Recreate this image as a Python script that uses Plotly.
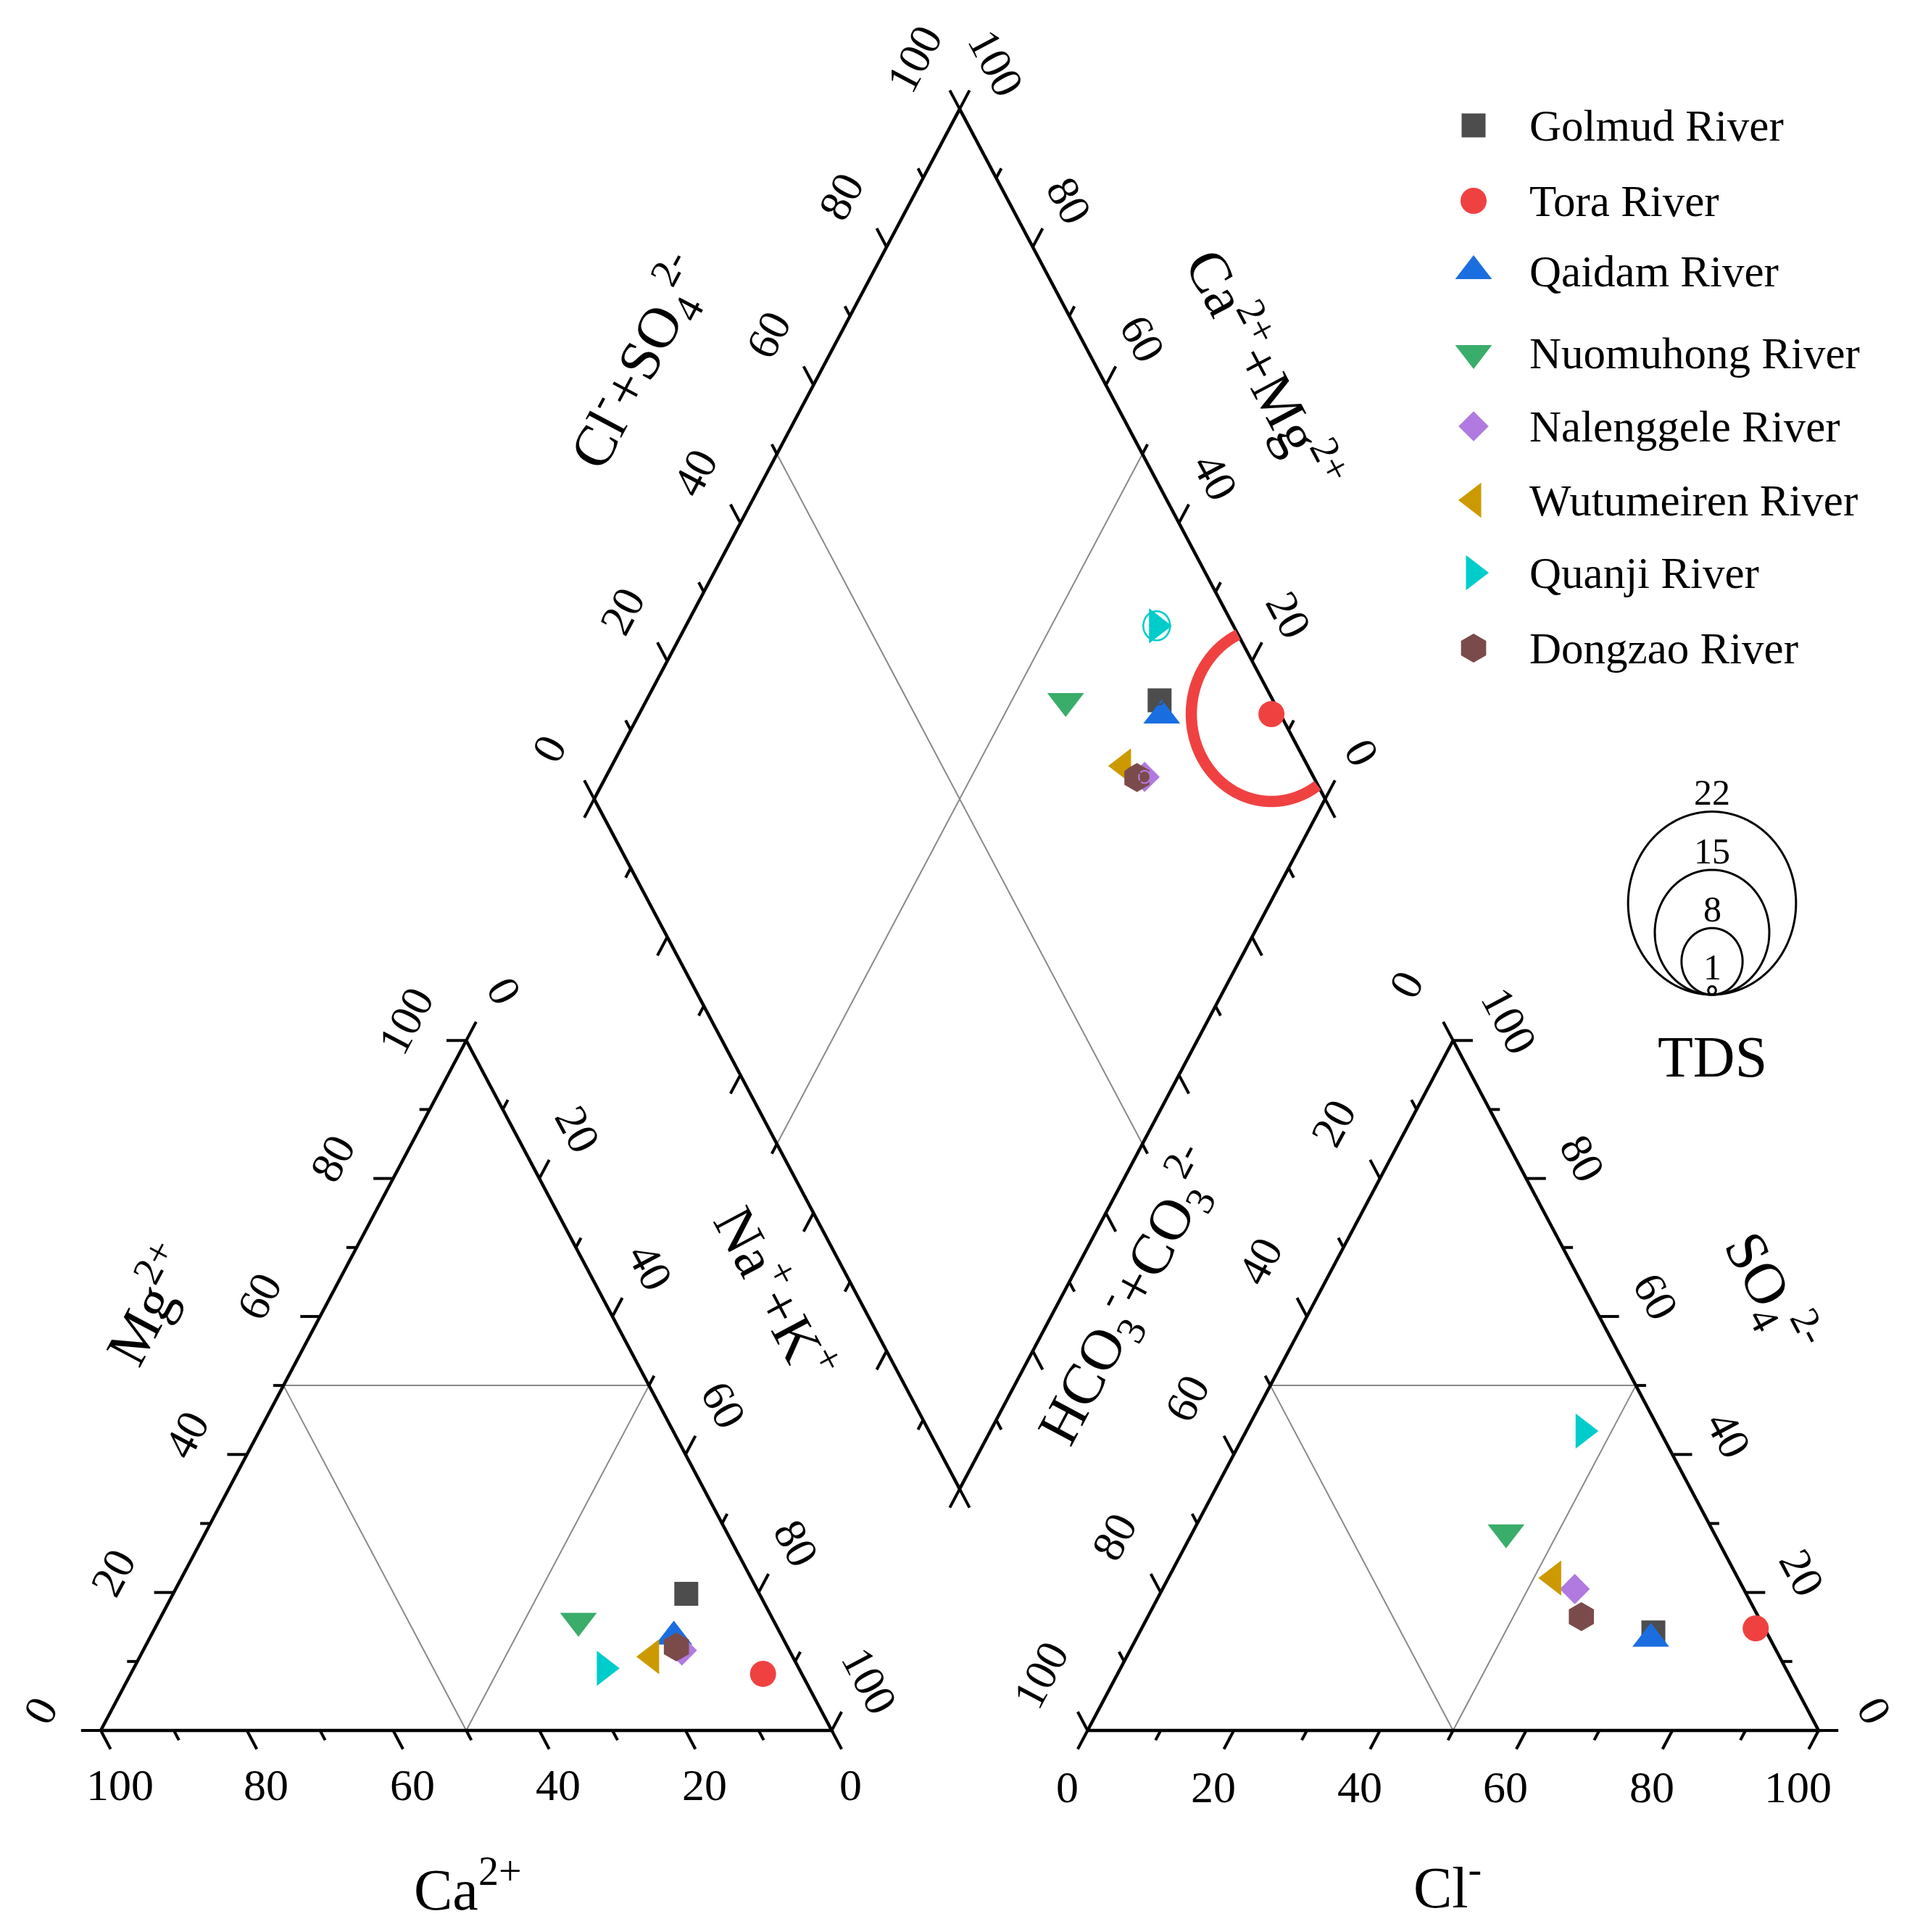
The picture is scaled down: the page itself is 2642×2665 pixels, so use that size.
import numpy as np
import plotly.graph_objects as go

# ---------------- data (percent meq/L) ----------------
rivers = ["Golmud River", "Tora River", "Qaidam River", "Nuomuhong River",
          "Nalenggele River", "Wutumeiren River", "Quanji River", "Dongzao River"]
ca = [10.0, 5.3, 14.8, 26.7, 14.7, 19.3, 26.6, 15.2]
mg = [19.8, 8.2, 13.6, 15.9, 11.6, 10.7, 9.0, 12.1]
na_k = [70.2, 86.5, 71.6, 57.4, 73.7, 70.0, 64.4, 72.7]
cl = [70.3, 84.0, 70.4, 42.9, 56.4, 52.7, 46.1, 59.3]
so4 = [14.2, 14.8, 13.3, 28.7, 20.5, 22.1, 43.4, 16.5]
hco3 = [15.5, 1.2, 16.3, 28.4, 23.1, 25.2, 10.5, 24.2]
tds = [1.0, 21.0, 1.2, 0.8, 1.5, 1.0, 3.5, 1.3]

tick_values = list(range(0, 101, 10))
label_values = [0, 20, 40, 60, 80, 100]
tds_legend_values = [22, 15, 8, 1]

# ---------------- styles ----------------
colors = ["#4d4d4d", "#f04141", "#1a6ee0", "#3aad6b", "#b07ae0", "#cc9a00", "#00cccc", "#7b4b4b"]
symbols = ["square", "circle", "triangle-up", "triangle-down", "diamond",
           "triangle-left", "triangle-right", "hexagon"]
msizes = [33, 36, 44, 44, 32, 42, 42, 40]

FONT = "Liberation Serif"
PAGE_MARGIN = 8                       # default body margin of the html page
W, H = 2642 - 2 * PAGE_MARGIN, 2665 - 2 * PAGE_MARGIN
PXU, PYU = 10.085, 10.990             # px per data unit (triangle side = 100)
ORIG_X, ORIG_Y = 139 - PAGE_MARGIN, 2387 - PAGE_MARGIN   # page px of the data origin
X0 = -ORIG_X / PXU
X1 = X0 + W / PXU
Y1 = ORIG_Y / PYU
Y0 = Y1 - H / PYU

S3 = np.sqrt(3) / 2
GAP = 35.0
OX = 100 + GAP
TDS_R = 0.522


def px2x(px):
    return (px - PAGE_MARGIN - ORIG_X) / PXU


def py2y(py):
    return (ORIG_Y - (py - PAGE_MARGIN)) / PYU


def cation_xy(c, m, n):
    t = c + m + n
    m, n = 100 * m / t, 100 * n / t
    return n + m / 2, m * S3


def anion_xy(c, s, h):
    t = c + s + h
    c, s = 100 * c / t, 100 * s / t
    return OX + c + s / 2, s * S3


def diamond_xy(n_pct, a_pct):
    return (OX + a_pct + n_pct) / 2, (OX + a_pct - n_pct) * S3


def inside_diamond(x, y):
    s = 2 * x - OX
    t = y / S3 - OX
    a = (s + t) / 2
    n = (s - t) / 2
    return (a >= -1e-9) & (a <= 100 + 1e-9) & (n >= -1e-9) & (n <= 100 + 1e-9)


fig = go.Figure()


def add_lines(segs, color, width):
    xs, ys = [], []
    for seg in segs:
        for p in seg:
            xs.append(p[0])
            ys.append(p[1])
        xs.append(None)
        ys.append(None)
    fig.add_trace(go.Scatter(x=xs, y=ys, mode="lines", line=dict(color=color, width=width),
                             hoverinfo="skip", showlegend=False))


# ---------------- inner (gray) lines ----------------
L_ = diamond_xy(0, 0)
B_ = diamond_xy(100, 0)
R_ = diamond_xy(100, 100)
T_ = diamond_xy(0, 100)
grid = [
    [cation_xy(50, 0, 50), cation_xy(50, 50, 0), cation_xy(0, 50, 50), cation_xy(50, 0, 50)],
    [anion_xy(50, 0, 50), anion_xy(0, 50, 50), anion_xy(50, 50, 0), anion_xy(50, 0, 50)],
    [diamond_xy(0, 50), diamond_xy(100, 50)],
    [diamond_xy(50, 100), diamond_xy(50, 0)],
]
add_lines(grid, "#8a8a8a", 2)

# ---------------- frames ----------------
frames = [
    [cation_xy(100, 0, 0), cation_xy(0, 0, 100), cation_xy(0, 100, 0), cation_xy(100, 0, 0)],
    [anion_xy(0, 0, 100), anion_xy(100, 0, 0), anion_xy(0, 100, 0), anion_xy(0, 0, 100)],
    [L_, B_, R_, T_, L_],
]
add_lines(frames, "black", 4.5)

# ---------------- axes: ticks + labels ----------------
axes = [
    # point on edge, outward direction, label offset, angle, labelled
    (lambda v: cation_xy(v, 0, 100 - v), (0.5, -S3), (2.6, -6.8), 0, True),
    (lambda v: cation_xy(100 - v, v, 0), (-1.0, 0.0), (-8.3, 2.5), -62, True),
    (lambda v: cation_xy(0, 100 - v, v), (0.5, S3), (5.2, 6.2), 62, True),
    (lambda v: anion_xy(v, 0, 100 - v), (-0.5, -S3), (-2.8, -7.1), 0, True),
    (lambda v: anion_xy(100 - v, v, 0), (1.0, 0.0), (7.7, 2.5), 62, True),
    (lambda v: anion_xy(0, 100 - v, v), (-0.5, S3), (-6.4, 7.0), -62, True),
    (lambda v: diamond_xy(0, v), (-0.5, S3), (-6.2, 6.3), -62, True),
    (lambda v: diamond_xy(100 - v, 100), (0.5, S3), (5.0, 5.8), 62, True),
    (lambda v: diamond_xy(v, 0), (-0.5, -S3), None, 0, False),
    (lambda v: diamond_xy(100, v), (0.5, -S3), None, 0, False),
]
ticks = []
annotations = []
for f, d, off, ang, lab in axes:
    for v in tick_values:
        x, y = f(v)
        ln = 2.7 if v % 20 == 0 else 1.4
        ticks.append([(x, y), (x + d[0] * ln, y + d[1] * ln)])
    if lab:
        for v in label_values:
            x, y = f(v)
            annotations.append(dict(x=x + off[0], y=y + off[1], text=str(v), textangle=ang,
                                    showarrow=False, xanchor="center", yanchor="middle",
                                    font=dict(family=FONT, size=62, color="black")))
add_lines(ticks, "black", 4)

# ---------------- data markers ----------------
dia_pts = []
for i, name in enumerate(rivers):
    cx, cy = cation_xy(ca[i], mg[i], na_k[i])
    axx, ayy = anion_xy(cl[i], so4[i], hco3[i])
    n_pct = 100 * na_k[i] / (ca[i] + mg[i] + na_k[i])
    a_pct = 100 * (cl[i] + so4[i]) / (cl[i] + so4[i] + hco3[i])
    dx, dy = diamond_xy(n_pct, a_pct)
    dia_pts.append((dx, dy))
    fig.add_trace(go.Scatter(x=[cx, axx, dx], y=[cy, ayy, dy], mode="markers", name=name,
                             marker=dict(symbol=symbols[i], size=msizes[i], color=colors[i],
                                         line=dict(width=0)),
                             showlegend=False))

# ---------------- TDS circles in the diamond ----------------
th = np.linspace(0, 2 * np.pi, 1441)
for i, name in enumerate(rivers):
    xc, yc = dia_pts[i]
    r = TDS_R * tds[i]
    xs = xc + r * np.cos(th)
    ys = yc + r * np.sin(th)
    m = inside_diamond(xs, ys)
    xs = np.where(m, xs, np.nan)
    ys = np.where(m, ys, np.nan)
    lw = max(2.2, 0.14 * r * PXU)
    fig.add_trace(go.Scatter(x=xs, y=ys, mode="lines",
                             line=dict(color=colors[i], width=lw, simplify=False),
                             hoverinfo="skip", showlegend=False, connectgaps=False))

# ---------------- TDS size legend ----------------
bx, by = px2x(2362), py2y(1372)
for v in tds_legend_values:
    r = TDS_R * v
    fig.add_trace(go.Scatter(x=bx + r * np.cos(th), y=by + r + r * np.sin(th),
                             mode="lines", line=dict(color="black", width=3, simplify=False),
                             hoverinfo="skip", showlegend=False))
    annotations.append(dict(x=bx, y=by + 2 * r + 2.4, text=str(v), showarrow=False,
                            xanchor="center", yanchor="middle",
                            font=dict(family=FONT, size=50, color="black")))
annotations.append(dict(x=bx, y=py2y(1458), text="TDS", showarrow=False,
                        xanchor="center", yanchor="middle",
                        font=dict(family=FONT, size=80, color="black")))

# ---------------- symbol legend ----------------
leg_y = [173, 277, 374, 487, 588, 690, 790, 894]
for i, name in enumerate(rivers):
    fig.add_trace(go.Scatter(x=[px2x(2033)], y=[py2y(leg_y[i])], mode="markers",
                             marker=dict(symbol=symbols[i], size=msizes[i], color=colors[i],
                                         line=dict(width=0)),
                             hoverinfo="skip", showlegend=False))
    annotations.append(dict(x=px2x(2108), y=py2y(leg_y[i]), text=name, showarrow=False,
                            xanchor="left", yanchor="middle",
                            font=dict(family=FONT, size=61, color="black")))

# ---------------- axis titles ----------------
titles = [
    ("Cl<sup>-</sup>+SO<sub>4</sub><sup>2-</sup>", 881, 500, -62),
    ("Ca<sup>2+</sup>+Mg<sup>2+</sup>", 1748, 508, 62),
    ("Mg<sup>2+</sup>", 202, 1798, -62),
    ("Na<sup>+</sup>+K<sup>+</sup>", 1073, 1782, 62),
    ("HCO<sub>3</sub><sup>-</sup>+CO<sub>3</sub><sup>2-</sup>", 1557, 1788, -62),
    ("SO<sub>4</sub><sup>2-</sup>", 2443, 1783, 62),
    ("Ca<sup>2+</sup>", 645, 2600, 0),
    ("Cl<sup>-</sup>", 1997, 2597, 0),
]
for t, px, py, ang in titles:
    annotations.append(dict(x=px2x(px), y=py2y(py), text=t, textangle=ang, showarrow=False,
                            xanchor="center", yanchor="middle",
                            font=dict(family=FONT, size=80, color="black")))

fig.update_layout(
    width=W, height=H,
    margin=dict(l=0, r=0, t=0, b=0, pad=0),
    paper_bgcolor="white", plot_bgcolor="white",
    showlegend=False,
    xaxis=dict(range=[X0, X1], visible=False, fixedrange=True),
    yaxis=dict(range=[Y0, Y1], visible=False, fixedrange=True),
    annotations=annotations,
)

fig.write_html("out.html")
